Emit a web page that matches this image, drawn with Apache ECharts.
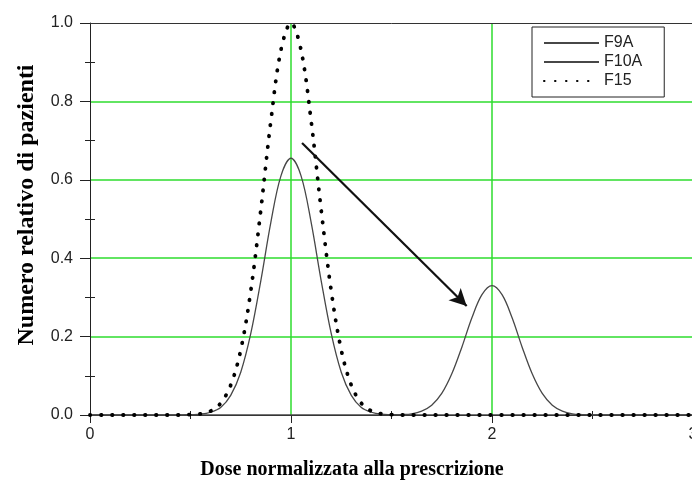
<!DOCTYPE html>
<html>
<head>
<meta charset="utf-8">
<script src="https://cdn.jsdelivr.net/npm/echarts@6/dist/echarts.min.js"></script>
<style>
html,body{margin:0;padding:0;background:#fff;}
#chart{width:692px;height:482px;}
</style>
</head>
<body>
<div id="chart"></div>
<script>
// ---- data ----
var doseX = [0,0.05,0.1,0.15,0.2,0.25,0.3,0.35,0.4,0.45,
  0.5,0.55,0.6,0.65,0.7,0.75,0.8,0.85,0.9,0.95,
  1.0,1.05,1.1,1.15,1.2,1.25,1.3,1.35,1.4,1.45,
  1.5,1.55,1.6,1.65,1.7,1.75,1.8,1.85,1.9,1.95,
  2.0,2.05,2.1,2.15,2.2,2.25,2.3,2.35,2.4,2.45,
  2.5,2.55,2.6,2.65,2.7,2.75,2.8,2.85,2.9,2.95,3.0];
var f9a = [0,0,0,0,0,0,0,0,0,0,
  0.001,0.002,0.007,0.019,0.050,0.109,0.208,0.343,0.492,0.610,
  0.655,0.610,0.492,0.343,0.208,0.109,0.050,0.019,0.007,0.002,
  0.001,0,0,0,0,0,0,0,0,0,
  0,0,0,0,0,0,0,0,0,0,
  0,0,0,0,0,0,0,0,0,0,0];
var f10a = [0,0,0,0,0,0,0,0,0,0,
  0,0,0,0,0,0,0,0,0,0,
  0,0,0,0,0,0,0,0,0,0,
  0,0.001,0.003,0.010,0.025,0.055,0.105,0.173,0.248,0.307,
  0.330,0.307,0.248,0.173,0.105,0.055,0.025,0.010,0.003,0.001,
  0,0,0,0,0,0,0,0,0,0,0];
var f15 = [0,0,0,0,0,0,0,0,0,0,
  0.001,0.003,0.010,0.030,0.076,0.166,0.317,0.524,0.751,0.931,
  1.0,0.931,0.751,0.524,0.317,0.166,0.076,0.030,0.010,0.003,
  0.001,0,0,0,0,0,0,0,0,0,
  0,0,0,0,0,0,0,0,0,0,
  0,0,0,0,0,0,0,0,0,0,0];
var seriesNames = ['F9A','F10A','F15'];
var arrowFrom = [1.055, 0.694];
var arrowTo = [1.874, 0.278];
var xTitle = 'Dose normalizzata alla prescrizione';
var yTitle = 'Numero relativo di pazienti';

function pairs(ys){ return doseX.map(function(x,i){ return [x, ys[i]]; }); }

var axisColor = '#222';
var gridGreen = '#2edc2e';
var chart = echarts.init(document.getElementById('chart'), null, {renderer:'canvas'});
chart.setOption({
  animation: false,
  backgroundColor: '#fff',
  grid: {left: 90, top: 23, width: 603, height: 392, containLabel: false, outerBoundsMode: 'none'},
  xAxis: [
    {type:'value', min:0, max:3, interval:1, position:'bottom',
     axisLine:{show:true, onZero:false, lineStyle:{color:axisColor, width:1}},
     axisTick:{show:true, length:8, lineStyle:{color:axisColor}},
     minorTick:{show:true, splitNumber:2, length:4, lineStyle:{color:axisColor}},
     splitLine:{show:true, showMinLine:false, showMaxLine:false, lineStyle:{color:gridGreen, width:1.5}},
     axisLabel:{fontFamily:'Liberation Sans', fontSize:16, color:axisColor, margin:12}},
    {type:'value', min:0, max:3, interval:1, position:'bottom',
     axisLine:{show:false, onZero:false},
     axisTick:{show:false, inside:true},
     minorTick:{show:true, splitNumber:2, length:4, lineStyle:{color:axisColor}},
     splitLine:{show:false}, axisLabel:{show:false}},
    {type:'value', min:0, max:3, interval:1, position:'top',
     axisLine:{show:true, onZero:false, lineStyle:{color:'#333', width:1}},
     axisTick:{show:false}, splitLine:{show:false}, axisLabel:{show:false}}
  ],
  yAxis: [
    {type:'value', min:0, max:1, interval:0.2, position:'left',
     axisLine:{show:true, onZero:false, lineStyle:{color:axisColor, width:1}},
     axisTick:{show:true, length:10, lineStyle:{color:axisColor}},
     minorTick:{show:true, splitNumber:2, length:5, lineStyle:{color:axisColor}},
     splitLine:{show:true, showMinLine:false, showMaxLine:false, lineStyle:{color:gridGreen, width:1.5}},
     axisLabel:{fontFamily:'Liberation Sans', fontSize:16, color:axisColor, margin:17,
       formatter:function(v){ return v.toFixed(1); }}},
    {type:'value', min:0, max:1, interval:0.2, position:'left',
     axisLine:{show:false, onZero:false},
     axisTick:{show:false, inside:true},
     minorTick:{show:true, splitNumber:2, length:5, lineStyle:{color:axisColor}},
     splitLine:{show:false}, axisLabel:{show:false}}
  ],
  legend: {
    orient:'vertical', left:532, top:27,
    data: seriesNames,
    itemWidth:55, itemHeight:16, itemGap:3, itemTextGap:10,
    padding:[8,22,8,11],
    itemStyle:{opacity:0, borderWidth:0},
    backgroundColor:'#fff', borderColor:'#222', borderWidth:1, borderRadius:0,
    textStyle:{fontFamily:'Liberation Sans', fontSize:16, color:'#222'}
  },
  series: [
    {name:seriesNames[0], type:'line', data:pairs(f9a), symbol:'none', smooth:0.35,
     lineStyle:{color:'#474747', width:1.3}, itemStyle:{color:'#474747'}, z:3},
    {name:seriesNames[1], type:'line', data:pairs(f10a), symbol:'none', smooth:0.35,
     lineStyle:{color:'#474747', width:1.3}, itemStyle:{color:'#474747'}, z:3,
     markLine:{silent:true, symbol:['none','arrow'], symbolSize:[13,17],
       label:{show:false}, lineStyle:{color:'#111', width:2.2, type:'solid'},
       emphasis:{disabled:true},
       data:[[{coord:arrowFrom},{coord:arrowTo}]]}},
    {name:seriesNames[2], type:'line', data:pairs(f15), symbol:'none', smooth:0.35,
     lineStyle:{color:'#000', width:3.8, type:[0.5,10.5], cap:'round'}, itemStyle:{color:'#000'}, z:4}
  ],
  graphic: [
    {type:'text', x: 352, y: 470, z:10,
     style:{text:xTitle, fontFamily:'Liberation Serif', fontWeight:'bold', fontSize:20, fill:'#000',
       textAlign:'center', textVerticalAlign:'middle'}},
    {type:'text', x: 27, y: 205, rotation: Math.PI/2, z:10,
     style:{text:yTitle, fontFamily:'Liberation Serif', fontWeight:'bold', fontSize:24, fill:'#000',
       textAlign:'center', textVerticalAlign:'middle'}}
  ]
});
</script>
</body>
</html>
